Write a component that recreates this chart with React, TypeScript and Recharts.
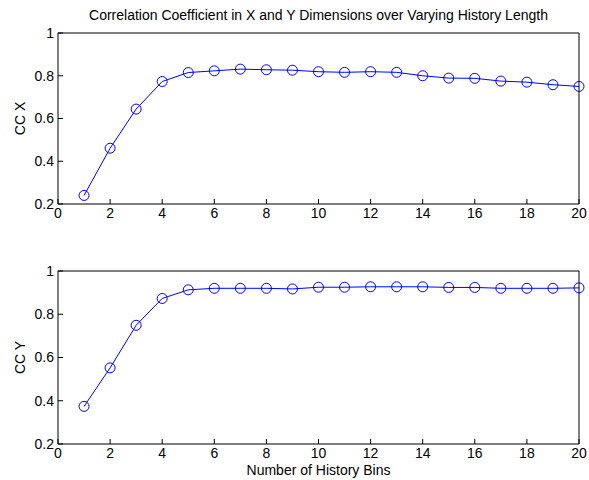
import { LineChart, Line, XAxis, YAxis } from "recharts";

const bins = [1, 2, 3, 4, 5, 6, 7, 8, 9, 10, 11, 12, 13, 14, 15, 16, 17, 18, 19, 20];
const ccX = [0.24, 0.461, 0.644, 0.773, 0.815, 0.823, 0.831, 0.828, 0.826, 0.819, 0.816, 0.819, 0.816, 0.8, 0.789, 0.788, 0.775, 0.77, 0.758, 0.75];
const ccY = [0.374, 0.552, 0.749, 0.873, 0.913, 0.92, 0.92, 0.92, 0.917, 0.925, 0.925, 0.927, 0.927, 0.927, 0.924, 0.924, 0.92, 0.92, 0.92, 0.922];
const xTicks = [0, 2, 4, 6, 8, 10, 12, 14, 16, 18, 20];
const yTicks = [0.2, 0.4, 0.6, 0.8, 1];

const blue = "#0000ff";
const font = "'Liberation Sans', Arial, sans-serif";

function Panel({ values, label, topMargin, xLabel }: { values: number[]; label: string; topMargin: number; xLabel?: string }) {
  const data = bins.map((b, i) => ({ bin: b, cc: values[i] }));
  return (
    <LineChart width={589} height={240} data={data} margin={{ top: topMargin, right: 5, bottom: 6, left: 0 }}>
      <XAxis
        dataKey="bin"
        type="number"
        domain={[0, 20]}
        ticks={xTicks}
        interval={0}
        stroke="#000"
        tickSize={-5}
        tickMargin={9}
        height={30}
        tick={{ fill: "#000", fontSize: 14 }}
        label={xLabel ? { value: xLabel, position: "bottom", offset: -9, fill: "#000", fontSize: 14 } : undefined}
      />
      <XAxis xAxisId="top" orientation="top" type="number" domain={[0, 20]} ticks={xTicks} interval={0} stroke="#000" tickSize={-5} tick={false} height={5} />
      <YAxis
        type="number"
        domain={[0.2, 1]}
        ticks={yTicks}
        interval={0}
        stroke="#000"
        tickSize={-5}
        tickMargin={9}
        width={58}
        tick={{ fill: "#000", fontSize: 14 }}
        label={{ value: label, angle: -90, position: "insideLeft", offset: 20, fill: "#000", fontSize: 14, style: { textAnchor: "middle" } }}
      />
      <YAxis yAxisId="right" orientation="right" type="number" domain={[0.2, 1]} ticks={yTicks} interval={0} stroke="#000" tickSize={-5} tick={false} width={5} />
      <Line
        dataKey="cc"
        stroke={blue}
        strokeWidth={1}
        dot={{ r: 5, fill: "none", stroke: blue, strokeWidth: 1 }}
        activeDot={false}
        isAnimationActive={false}
      />
    </LineChart>
  );
}

export default function App() {
  return (
    <div style={{ position: "absolute", left: 0, top: 0, width: 589, height: 480, background: "#fff", fontFamily: font }}>
      <div style={{ position: "absolute", left: 58, width: 521, top: 7, textAlign: "center", fontSize: 14, color: "#000", whiteSpace: "nowrap" }}>
        Correlation Coefficient in X and Y Dimensions over Varying History Length
      </div>
      <div style={{ position: "absolute", left: 0, top: 0 }}>
        <Panel values={ccX} label="CC X" topMargin={28} />
      </div>
      <div style={{ position: "absolute", left: 0, top: 240 }}>
        <Panel values={ccY} label="CC Y" topMargin={26} xLabel="Number of History Bins" />
      </div>
    </div>
  );
}
